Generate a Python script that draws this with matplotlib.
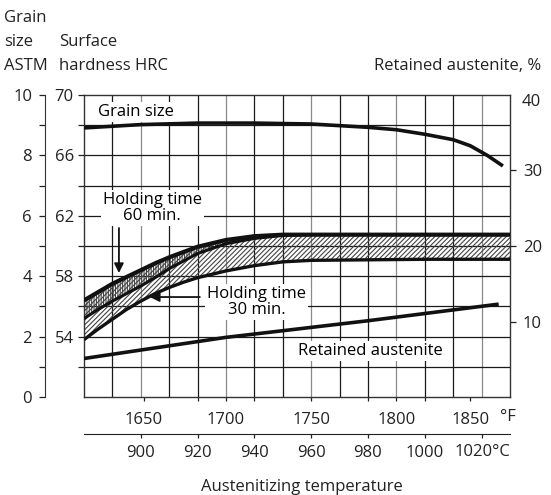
import matplotlib.pyplot as plt
import numpy as np

plt.rcParams['font.family'] = ['Open Sans', 'DejaVu Sans']
plt.rcParams['font.size'] = 12
plt.rcParams['hatch.linewidth'] = 0.8

# data (x in deg C)
grain_t = [880, 900, 920, 940, 960, 980, 990, 1000, 1010, 1016, 1022, 1027.5]
grain_size = [8.91, 9.02, 9.07, 9.07, 9.04, 8.93, 8.85, 8.70, 8.52, 8.32, 8.0, 7.65]

ra_t = [880, 930, 980, 1026]
ra_pct = [5.1, 7.9, 10.1, 12.3]

band_t = [880, 885, 890, 895, 900, 905, 910, 915, 920, 930, 940, 950, 960, 1000, 1030]
hrc_top = [56.4, 56.95, 57.5, 57.95, 58.4, 58.85, 59.25, 59.6, 59.95, 60.4, 60.65, 60.75, 60.75, 60.75, 60.75]
hrc_mid = [55.2, 55.8, 56.35, 56.85, 57.35, 57.9, 58.5, 59.0, 59.5, 60.15, 60.5, 60.7, 60.75, 60.75, 60.75]
hrc_low = [53.8, 54.5, 55.15, 55.8, 56.35, 56.85, 57.25, 57.6, 57.9, 58.35, 58.7, 58.95, 59.05, 59.12, 59.12]

f_pos = [901, 930, 960, 990, 1016]
f_labels = ['1650', '1700', '1750', '1800', '1850']
c_ticks = [900, 920, 940, 960, 980, 1000, 1020]
c_labels = ['900', '920', '940', '960', '980', '1000', '']

W, H = 551, 495
def fx(x):
    return x / W
def fy(y):
    return 1 - y / H

fig = plt.figure(figsize=(W / 100, H / 100), dpi=100)
ax = fig.add_axes([fx(84), fy(397), 426 / W, 302 / H])
ax.set_xlim(880, 1030)
ax.set_ylim(50, 70)

# grid
for t in range(890, 1030, 10):
    c = '#8a8a8a' if (t - 900) % 30 == 0 else '#1a1a1a'
    ax.axvline(t, color=c, lw=0.9, zorder=1)
for h in range(52, 70, 2):
    ax.axhline(h, color='#1a1a1a', lw=0.9, zorder=1)

for s in ax.spines.values():
    s.set_color('#333333')
    s.set_linewidth(1.0)

# hardness bands
ax.fill_between(band_t, hrc_low, hrc_top, facecolor='none', edgecolor='#444444',
                hatch='///////', lw=0, zorder=2)
ax.fill_between(band_t, hrc_mid, hrc_top, facecolor='none', edgecolor='#444444',
                hatch='|||||||', lw=0, zorder=2)
ax.plot(band_t, hrc_top, color='#111111', lw=3.0, zorder=4, solid_capstyle='butt')
ax.plot(band_t, hrc_mid, color='#111111', lw=2.2, zorder=4, solid_capstyle='butt')
ax.plot(band_t, hrc_low, color='#111111', lw=2.4, zorder=4, solid_capstyle='butt')

# grain size (0-10 maps onto 50-70 HRC)
ax.plot(grain_t, [50 + 2 * g for g in grain_size], color='#111111', lw=2.6,
        zorder=4, solid_capstyle='butt')

# HRC axis
ax.set_yticks([54, 58, 62, 66, 70])
ax.set_yticks([52, 56, 60, 64, 68], minor=True)
ax.tick_params(axis='y', which='both', direction='out', length=4.3, width=0.9,
               pad=3, colors='#222222')

# F axis
ax.set_xticks(f_pos)
ax.set_xticklabels(f_labels)
ax.set_xticks([920, 940, 980, 1000], minor=True)
ax.tick_params(axis='x', which='both', direction='out', length=3, width=0.9,
               pad=8, colors='#222222')
fig.text(fx(508), fy(417), '°F', ha='center', va='center', color='#222222')

# C axis
secax = ax.secondary_xaxis(-37 / 302)
secax.set_xticks(c_ticks)
secax.set_xticklabels(c_labels)
secax.tick_params(direction='out', length=3, width=0.9, pad=5, colors='#222222')
secax.spines['bottom'].set_color('#222222')
fig.text(fx(482), fy(452), '1020°C', ha='center', va='center', color='#222222')

# retained austenite axis
rax = ax.twinx()
rax.set_ylim(0, 40)
rax.set_yticks([10, 20, 30])
rax.tick_params(axis='y', direction='out', length=4.3, width=0.9, pad=5,
                colors='#222222')
for s in ['top', 'left', 'bottom', 'right']:
    rax.spines[s].set_visible(False)
rax.plot(ra_t, ra_pct, color='#111111', lw=2.6, zorder=4, solid_capstyle='butt')
fig.text(fx(522), fy(102), '40', ha='left', va='center', color='#222222')

# grain size axis
gax = fig.add_axes([fx(45), fy(397), 0.0001, 302 / H])
gax.set_ylim(0, 10)
gax.set_xticks([])
for s in ['top', 'right', 'bottom']:
    gax.spines[s].set_visible(False)
gax.spines['left'].set_color('#333333')
gax.set_yticks([0, 2, 4, 6, 8, 10])
gax.set_yticks([1, 3, 5, 7, 9], minor=True)
gax.tick_params(axis='y', which='both', direction='out', length=4.3, width=0.9,
                pad=5, colors='#222222')

# labels inside plot
box = dict(facecolor='white', edgecolor='none', pad=1.5)
ax.text(898.3, 68.87, 'Grain size', ha='center', va='center', bbox=box, zorder=3)
ax.text(904, 62.5, 'Holding time\n60 min.', ha='center', va='center',
        linespacing=1.0, bbox=box, zorder=3)
ax.text(940.9, 56.26, 'Holding time\n30 min.', ha='center', va='center',
        linespacing=1.0, bbox=box, zorder=3)
ax.text(981, 53.05, 'Retained austenite', ha='center', va='center', bbox=box, zorder=3)
ax.annotate('', xy=(892.3, 58.21), xytext=(892.3, 61.19),
            arrowprops=dict(arrowstyle='-|>', color='#111111', lw=1.3,
                            mutation_scale=14, shrinkA=0, shrinkB=0), zorder=5)
ax.annotate('', xy=(903.2, 56.62), xytext=(920.8, 56.62),
            arrowprops=dict(arrowstyle='-|>', color='#111111', lw=1.3,
                            mutation_scale=14, shrinkA=0, shrinkB=0), zorder=5)

# header texts
fig.text(fx(4), fy(18), 'Grain', ha='left', va='center', color='#222222')
fig.text(fx(4), fy(42), 'size', ha='left', va='center', color='#222222')
fig.text(fx(4), fy(66), 'ASTM', ha='left', va='center', color='#222222')
fig.text(fx(59), fy(42), 'Surface', ha='left', va='center', color='#222222')
fig.text(fx(59), fy(66), 'hardness HRC', ha='left', va='center', color='#222222')
fig.text(fx(541), fy(66), 'Retained austenite, %', ha='right', va='center',
         color='#222222')
fig.text(fx(302), fy(487), 'Austenitizing temperature', ha='center', va='center',
         color='#222222')

fig.savefig('out.png', dpi=100)
